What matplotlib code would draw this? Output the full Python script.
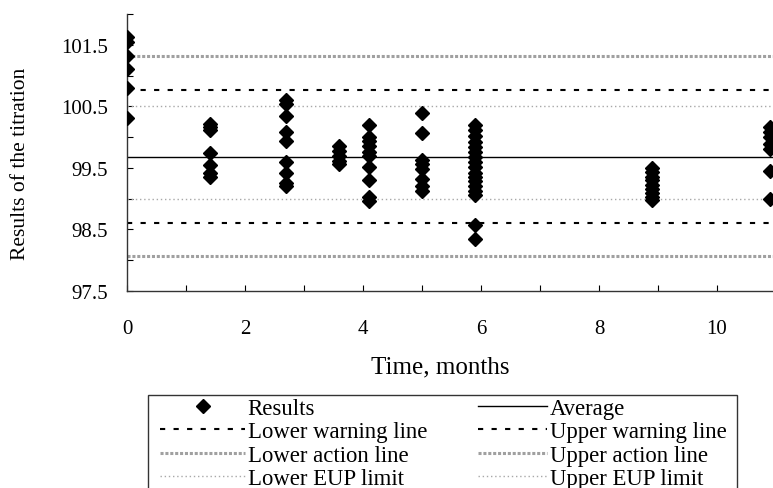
import matplotlib
matplotlib.use("Agg")
import matplotlib.pyplot as plt
from matplotlib.lines import Line2D
from matplotlib.patches import Rectangle
import numpy as np

plt.rcParams['font.family'] = ['Liberation Serif', 'DejaVu Serif']

# ---- data ----
times = [0.0, 1.4, 2.7, 3.6, 4.1, 5.0, 5.9, 8.9, 10.9]
results = [
    [101.63, 101.55, 101.32, 101.11, 100.80, 100.31],
    [100.22, 100.17, 100.12, 99.74, 99.55, 99.42, 99.35],
    [100.60, 100.54, 100.35, 100.09, 99.94, 99.60, 99.42, 99.26, 99.20],
    [99.86, 99.78, 99.70, 99.62, 99.56],
    [100.20, 100.00, 99.93, 99.85, 99.76, 99.70, 99.52, 99.30, 99.03, 98.97],
    [100.39, 100.07, 99.63, 99.57, 99.48, 99.32, 99.21, 99.13],
    [100.20, 100.12, 100.02, 99.92, 99.84, 99.76, 99.68, 99.60, 99.52, 99.42,
     99.35, 99.28, 99.20, 99.12, 99.06, 98.57, 98.35],
    [99.50, 99.44, 99.36, 99.30, 99.23, 99.16, 99.09, 99.03, 98.98],
    [100.17, 100.09, 100.00, 99.89, 99.81, 99.45, 98.99],
]
average = 99.68
lower_warning = 98.61
upper_warning = 100.77
lower_action = 98.07
upper_action = 101.32
lower_eup = 99.0
upper_eup = 100.5

y_ticks = [97.5, 98.0, 98.5, 99.0, 99.5, 100.0, 100.5, 101.0, 101.5, 102.0]
y_labels = ['97.5', '', '98.5', '', '99.5', '', '100.5', '', '101.5', '']
x_ticks = list(range(0, 11))
x_labels = ['0', '', '2', '', '4', '', '6', '', '8', '', '10']

# ---- figure ----
W, H = 773, 489
fig = plt.figure(figsize=(W/100, H/100), dpi=100)
ax = fig.add_axes([127/W, 1-292/H, 646/W, 277/H])

xs = np.concatenate([[t]*len(r) for t, r in zip(times, results)])
ys = np.concatenate(results)
ax.plot(xs, ys, linestyle='none', marker='D', markersize=7.5, color='black',
        zorder=5)

xmin, xmax = 0, 646/59
ax.set_xlim(xmin, xmax)
ax.set_ylim(97.5, 102.0)

action_kw = dict(color='#a0a0a0', lw=2.2, linestyle=(0, (1, 0.6)))
eup_kw = dict(color='#a8a8a8', lw=1.0, linestyle=(0, (1, 2)))
warn_kw = dict(color='black', lw=1.5, linestyle=(0, (2.5, 4)))

h_avg, = ax.plot([xmin, xmax], [average]*2, color='black', lw=1.0)
h_lw, = ax.plot([xmin, xmax], [lower_warning]*2, **warn_kw)
h_uw, = ax.plot([xmin, xmax], [upper_warning]*2, **warn_kw)
h_la, = ax.plot([xmin, xmax], [lower_action]*2, **action_kw)
h_ua, = ax.plot([xmin, xmax], [upper_action]*2, **action_kw)
h_le, = ax.plot([xmin, xmax], [lower_eup]*2, **eup_kw)
h_ue, = ax.plot([xmin, xmax], [upper_eup]*2, **eup_kw)

for s in ['top', 'right']:
    ax.spines[s].set_visible(False)
for s in ['left', 'bottom']:
    ax.spines[s].set_linewidth(1.0)
    ax.spines[s].set_color('#333333')

ax.set_yticks(y_ticks)
ax.set_yticklabels(y_labels)
ax.set_xticks(x_ticks)
ax.set_xticklabels(x_labels)
ax.tick_params(axis='y', direction='in', length=4, width=0.8, pad=14,
               labelsize=15)
ax.tick_params(axis='x', direction='in', length=4, width=0.8, pad=20,
               labelsize=15)

ax.set_xlabel('Time, months', fontsize=18)
ax.xaxis.set_label_coords((440-127)/646, (292-367)/277)
ax.xaxis.label.set_va('center')
ax.set_ylabel('Results of the titration', fontsize=15.5)
ax.yaxis.set_label_coords((21-127)/646, (292-164)/277)
ax.yaxis.label.set_va('center')

# ---- legend: frame + two columns ----
fig.patches.append(Rectangle((148/W, -0.02), (737-148)/W, (H-396)/H + 0.02,
                             transform=fig.transFigure, fill=False,
                             edgecolor='#333333', lw=1.0))

res_handle = Line2D([], [], linestyle='none', marker='D', markersize=7,
                    color='black')
leg_kw = dict(loc='upper left', bbox_transform=fig.transFigure,
              fontsize=16.4, frameon=False, borderaxespad=0, borderpad=0,
              handletextpad=0.1, labelspacing=0.1)
leg1 = fig.legend([res_handle, h_lw, h_la, h_le],
                  ['Results', 'Lower warning line', 'Lower action line',
                   'Lower EUP limit'],
                  bbox_to_anchor=(160/W, 1-399/H), handlelength=3.75,
                  **leg_kw)
leg2 = fig.legend([h_avg, h_uw, h_ua, h_ue],
                  ['Average', 'Upper warning line', 'Upper action line',
                   'Upper EUP limit'],
                  bbox_to_anchor=(478/W, 1-399/H), handlelength=3.05,
                  **leg_kw)

fig.savefig('out.png', dpi=100)
